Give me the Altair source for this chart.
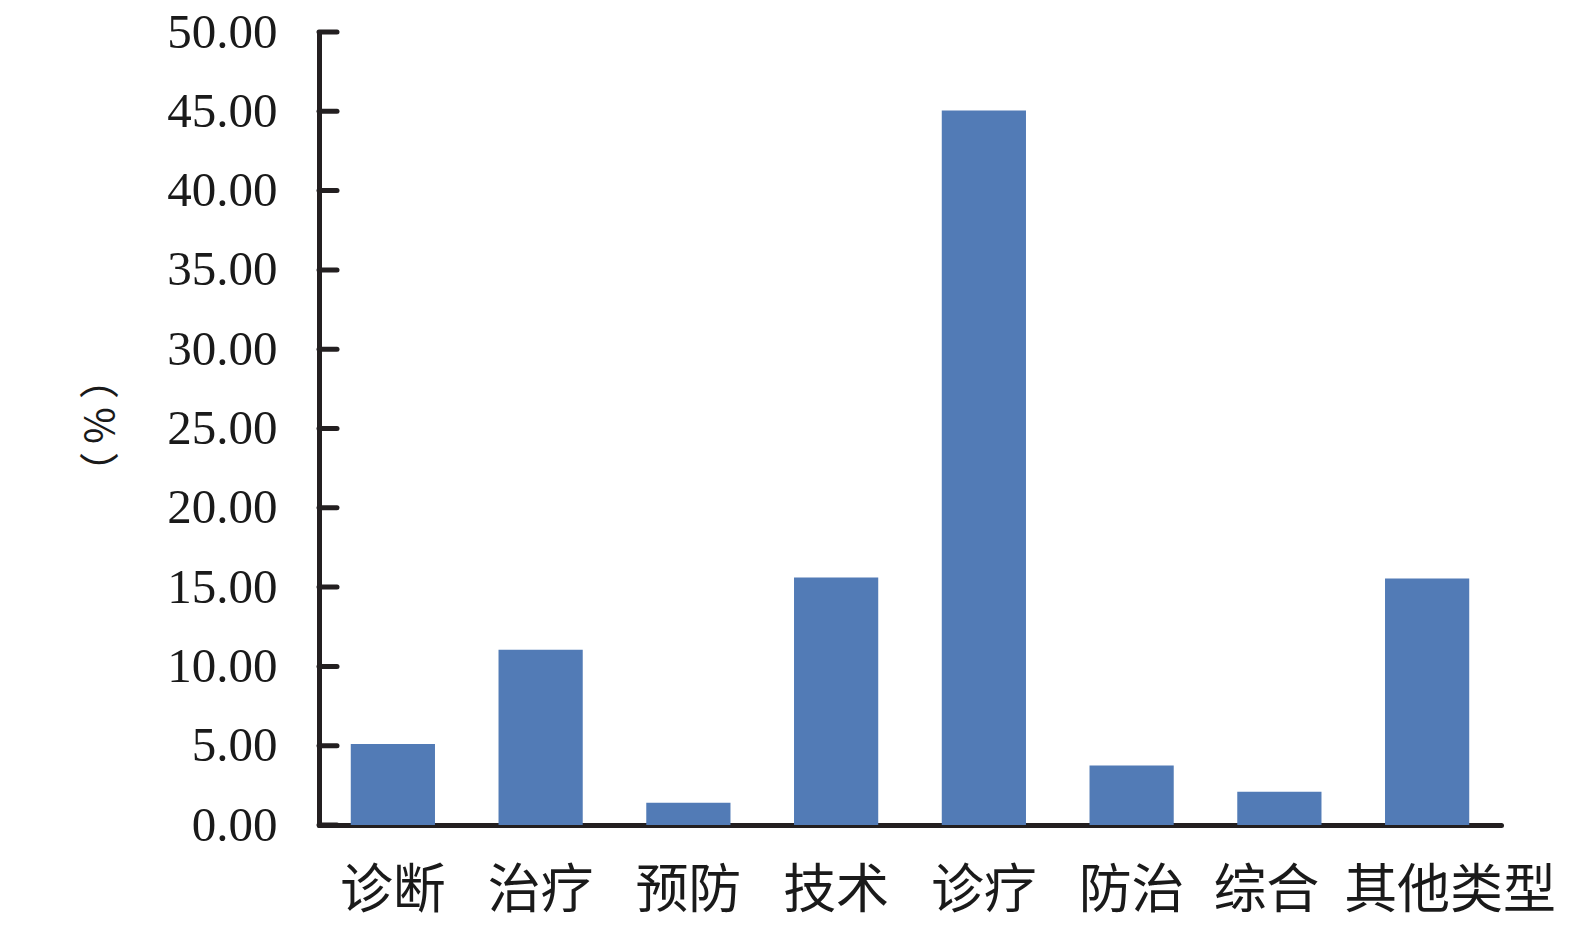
import altair as alt
import pandas as pd

categories = ["诊断", "治疗", "预防", "技术", "诊疗", "防治", "综合", "其他类型"]
values = [5.1, 11.05, 1.4, 15.6, 45.05, 3.75, 2.1, 15.55]
tick_values = [0, 5, 10, 15, 20, 25, 30, 35, 40, 45, 50]

df = pd.DataFrame({"cat": categories, "val": values})
ticks_df = pd.DataFrame({"t": tick_values})

AXIS_COLOR = "#231f20"

bars = alt.Chart(df).mark_bar(color="#527bb6").encode(
    x=alt.X(
        "cat:N",
        sort=categories,
        scale=alt.Scale(paddingInner=0.43, paddingOuter=0.215),
        axis=alt.Axis(
            title=None,
            labelAngle=0,
            labelFont="Noto Sans CJK SC",
            labelFontSize=53,
            labelColor="#1a1a1a",
            labelPadding=40,
            labelLimit=0,
            labelOverlap=False,
            labelOffset={
                "condition": [
                    {"test": "datum.value == '其他类型'", "value": 23},
                    {"test": "datum.value == '综合'", "value": -13},
                ],
                "value": 0,
            },
            ticks=False,
            tickSize=0,
            domainColor=AXIS_COLOR,
            domainWidth=5,
            domainCap="round",
        ),
    ),
    y=alt.Y(
        "val:Q",
        scale=alt.Scale(domain=[0, 50], nice=False),
        axis=alt.Axis(
            title="（\u2009%\u2009）",
            titleFont="Noto Sans CJK SC",
            titleFontSize=40,
            titleFontWeight="normal",
            titleColor="#1a1a1a",
            titleX=-218,
            titleY=393,
            titleAlign="center",
            titleBaseline="middle",
            titleAngle=270,
            values=tick_values,
            format=".2f",
            labelFont="Liberation Serif",
            labelFontSize=49,
            labelColor="#1a1a1a",
            labelPadding=42,
            labelBaseline="middle",
            labelOffset=0,
            ticks=False,
            tickSize=0,
            grid=False,
            domainColor=AXIS_COLOR,
            domainWidth=5,
            domainCap="round",
        ),
    ),
)

tick_marks = alt.Chart(ticks_df).mark_rule(
    color=AXIS_COLOR, strokeWidth=5, strokeCap="round"
).encode(
    y=alt.Y("t:Q", scale=alt.Scale(domain=[0, 50], nice=False)),
    x=alt.value(0),
    x2=alt.value(18),
)

chart = (
    alt.layer(bars, tick_marks)
    .properties(
        width=1182,
        height=793,
        padding={"left": 311, "top": 24, "right": 66, "bottom": 104},
        autosize=alt.AutoSizeParams(type="none"),
        background="white",
    )
    .configure_view(strokeWidth=0, stroke=None)
)

chart.save("out.html", embed_options={"renderer": "svg", "actions": False})
